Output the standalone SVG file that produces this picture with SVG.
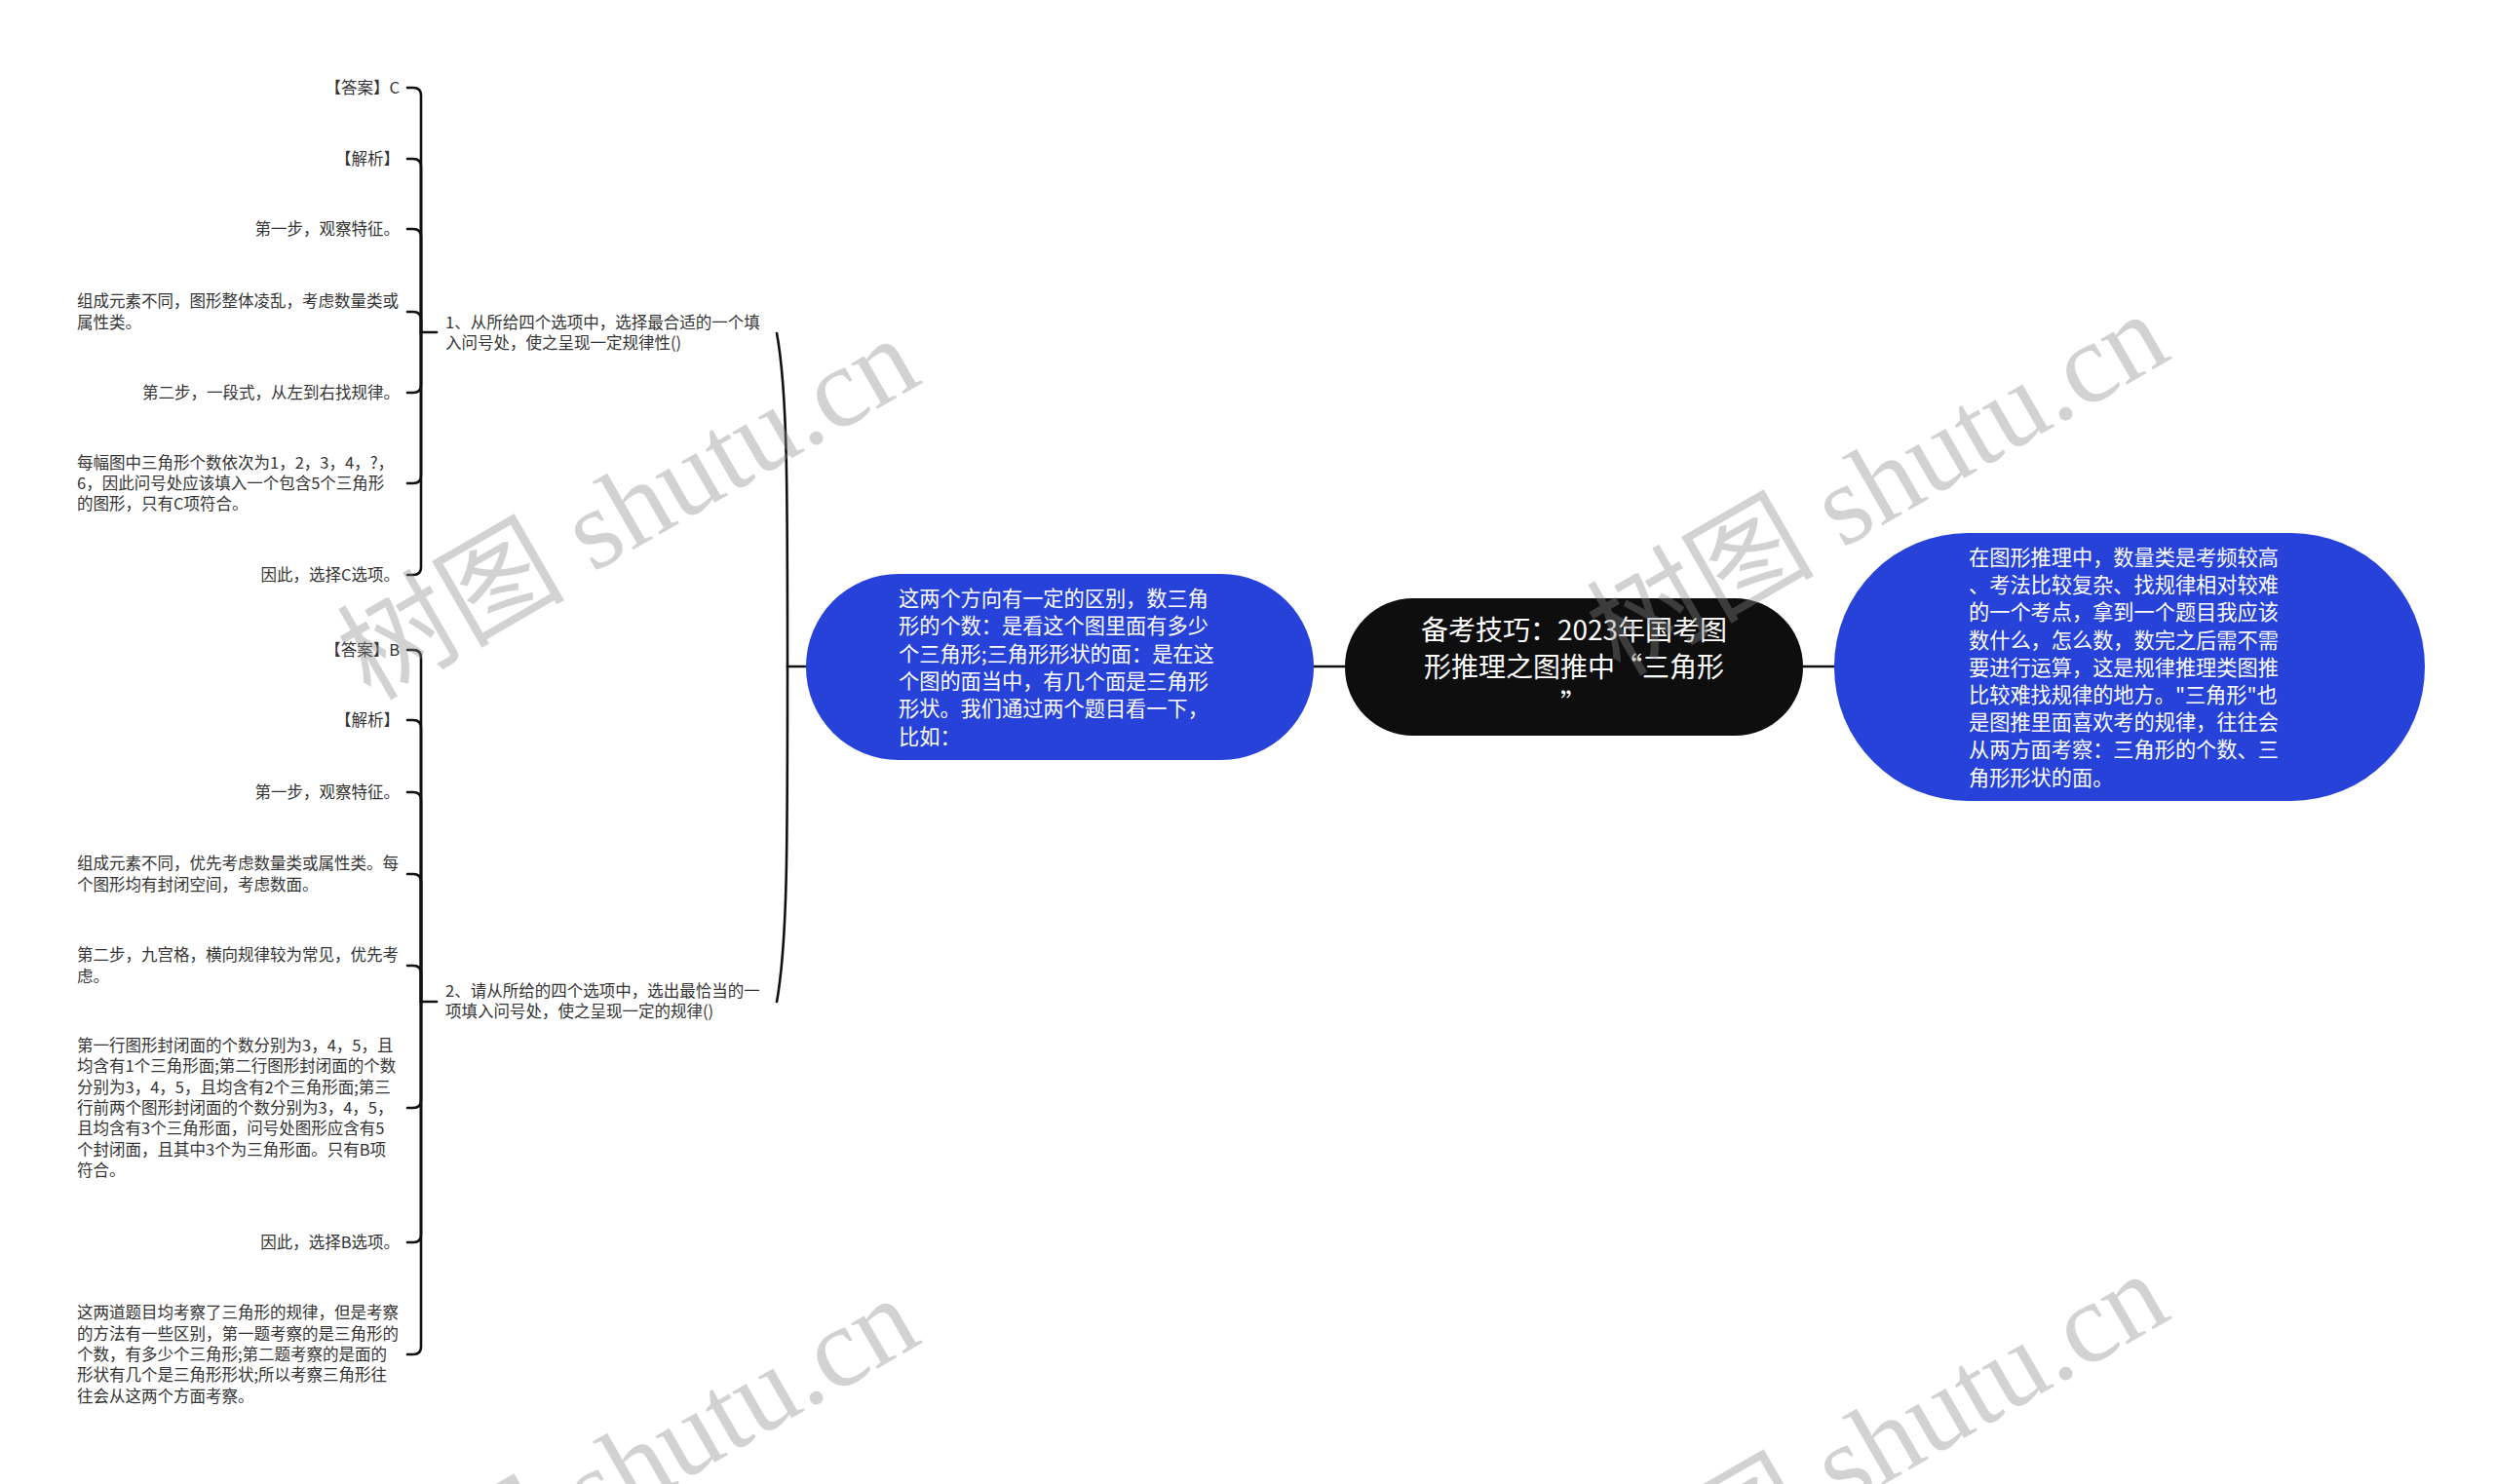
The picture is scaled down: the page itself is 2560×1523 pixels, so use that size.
<svg xmlns="http://www.w3.org/2000/svg" width="2560" height="1523" viewBox="0 0 2560 1523">
<style>
.leaf{font-family:"Noto Sans CJK SC","Liberation Sans",sans-serif;font-size:16.5px;fill:#333}
.r{text-anchor:end}
.blue{fill:#2642d9}
.wt{font-family:"Noto Sans CJK SC","Liberation Sans",sans-serif;font-size:21.2px;fill:#fff}
.ct{font-family:"Noto Sans CJK SC","Liberation Sans",sans-serif;font-size:28px;fill:#fff;text-anchor:middle}
.ln{fill:none;stroke:#111;stroke-width:2.6;stroke-linecap:round}
.wm{font-family:"Liberation Serif","Noto Sans CJK SC",serif;font-size:117px;fill:#888;fill-opacity:0.38}
</style>
<rect width="2560" height="1523" fill="#fff"/>
<g id="connectors" class="ln">
<path d="M1348 684H1380M1850 684H1882"/>
<path d="M827 684H808C808 500 808 400 797 342"/>
<path d="M808 684C808 868 808 968 797 1028"/>
<path d="M448 341H432"/>
<path d="M432 341V98Q432 90 424 90H418"/>
<path d="M432 341V171Q432 163 424 163H418"/>
<path d="M432 341V243Q432 235 424 235H418"/>
<path d="M432 341V328Q432 320 424 320H418"/>
<path d="M432 341V395Q432 403 424 403H418"/>
<path d="M432 341V488Q432 496 424 496H418"/>
<path d="M432 341V582Q432 590 424 590H418"/>
<path d="M448 1028H432"/>
<path d="M432 1028V675Q432 667 424 667H418"/>
<path d="M432 1028V747Q432 739 424 739H418"/>
<path d="M432 1028V821Q432 813 424 813H418"/>
<path d="M432 1028V905Q432 897 424 897H418"/>
<path d="M432 1028V999Q432 991 424 991H418"/>
<path d="M432 1028V1129Q432 1137 424 1137H418"/>
<path d="M432 1028V1267Q432 1275 424 1275H418"/>
<path d="M432 1028V1382Q432 1390 424 1390H418"/>
</g>
<g id="center">
<rect x="1380" y="614" width="470" height="141" rx="70" fill="#0e0e0e"/>
<text class="ct"><tspan x="1615" y="657">备考技巧：2023年国考图</tspan><tspan x="1615" y="695">形推理之图推中“三角形</tspan><tspan x="1615" y="733">”</tspan></text>
</g>
<g id="left-topic">
<rect class="blue" x="827" y="589" width="521" height="191" rx="95"/>
<text class="wt"><tspan x="922" y="622">这两个方向有一定的区别，数三角</tspan><tspan x="922" y="650.3">形的个数：是看这个图里面有多少</tspan><tspan x="922" y="678.6">个三角形;三角形形状的面：是在这</tspan><tspan x="922" y="706.9">个图的面当中，有几个面是三角形</tspan><tspan x="922" y="735.2">形状。我们通过两个题目看一下，</tspan><tspan x="922" y="763.5">比如：</tspan></text>
</g>
<g id="right-topic">
<rect class="blue" x="1882" y="547" width="606" height="275" rx="137"/>
<text class="wt"><tspan x="2020" y="580">在图形推理中，数量类是考频较高</tspan><tspan x="2020" y="608.2">、考法比较复杂、找规律相对较难</tspan><tspan x="2020" y="636.4">的一个考点，拿到一个题目我应该</tspan><tspan x="2020" y="664.6">数什么，怎么数，数完之后需不需</tspan><tspan x="2020" y="692.8">要进行运算，这是规律推理类图推</tspan><tspan x="2020" y="721">比较难找规律的地方。"三角形"也</tspan><tspan x="2020" y="749.2">是图推里面喜欢考的规律，往往会</tspan><tspan x="2020" y="777.4">从两方面考察：三角形的个数、三</tspan><tspan x="2020" y="805.6">角形形状的面。</tspan></text>
</g>
<g id="q1">
<text class="leaf"><tspan x="457" y="337">1、从所给四个选项中，选择最合适的一个填</tspan><tspan x="457" y="358">入问号处，使之呈现一定规律性()</tspan></text>
</g>
<g id="q2">
<text class="leaf"><tspan x="457" y="1023">2、请从所给的四个选项中，选出最恰当的一</tspan><tspan x="457" y="1044">项填入问号处，使之呈现一定的规律()</tspan></text>
</g>
<g id="q1-leaves">
<g id="l1-1"><text class="leaf r" x="410" y="96">【答案】C</text></g>
<g id="l1-2"><text class="leaf r" x="410" y="169">【解析】</text></g>
<g id="l1-3"><text class="leaf r" x="410" y="241">第一步，观察特征。</text></g>
<g id="l1-4"><text class="leaf"><tspan x="79" y="315.4">组成元素不同，图形整体凌乱，考虑数量类或</tspan><tspan x="79" y="336.7">属性类。</tspan></text></g>
<g id="l1-5"><text class="leaf r" x="410" y="409">第二步，一段式，从左到右找规律。</text></g>
<g id="l1-6"><text class="leaf"><tspan x="79" y="480.7">每幅图中三角形个数依次为1，2，3，4，?，</tspan><tspan x="79" y="502">6，因此问号处应该填入一个包含5个三角形</tspan><tspan x="79" y="523.3">的图形，只有C项符合。</tspan></text></g>
<g id="l1-7"><text class="leaf r" x="410" y="596">因此，选择C选项。</text></g>
</g>
<g id="q2-leaves">
<g id="l2-1"><text class="leaf r" x="410" y="673">【答案】B</text></g>
<g id="l2-2"><text class="leaf r" x="410" y="745">【解析】</text></g>
<g id="l2-3"><text class="leaf r" x="410" y="819">第一步，观察特征。</text></g>
<g id="l2-4"><text class="leaf"><tspan x="79" y="892.4">组成元素不同，优先考虑数量类或属性类。每</tspan><tspan x="79" y="913.7">个图形均有封闭空间，考虑数面。</tspan></text></g>
<g id="l2-5"><text class="leaf"><tspan x="79" y="986.4">第二步，九宫格，横向规律较为常见，优先考</tspan><tspan x="79" y="1007.7">虑。</tspan></text></g>
<g id="l2-6"><text class="leaf"><tspan x="79" y="1079.1">第一行图形封闭面的个数分别为3，4，5，且</tspan><tspan x="79" y="1100.4">均含有1个三角形面;第二行图形封闭面的个数</tspan><tspan x="79" y="1121.7">分别为3，4，5，且均含有2个三角形面;第三</tspan><tspan x="79" y="1143">行前两个图形封闭面的个数分别为3，4，5，</tspan><tspan x="79" y="1164.3">且均含有3个三角形面，问号处图形应含有5</tspan><tspan x="79" y="1185.6">个封闭面，且其中3个为三角形面。只有B项</tspan><tspan x="79" y="1206.9">符合。</tspan></text></g>
<g id="l2-7"><text class="leaf r" x="410" y="1281">因此，选择B选项。</text></g>
<g id="l2-8"><text class="leaf"><tspan x="79" y="1353.4">这两道题目均考察了三角形的规律，但是考察</tspan><tspan x="79" y="1374.7">的方法有一些区别，第一题考察的是三角形的</tspan><tspan x="79" y="1396">个数，有多少个三角形;第二题考察的是面的</tspan><tspan x="79" y="1417.3">形状有几个是三角形形状;所以考察三角形往</tspan><tspan x="79" y="1438.6">往会从这两个方面考察。</tspan></text></g>
</g>
<g id="watermarks">
<text class="wm" transform="translate(380 720) rotate(-30)">树图 shutu.cn</text>
<text class="wm" transform="translate(1662 695) rotate(-30)">树图 shutu.cn</text>
<text class="wm" transform="translate(380 1705) rotate(-30)">树图 shutu.cn</text>
<text class="wm" transform="translate(1662 1680) rotate(-30)">树图 shutu.cn</text>
</g>
</svg>
